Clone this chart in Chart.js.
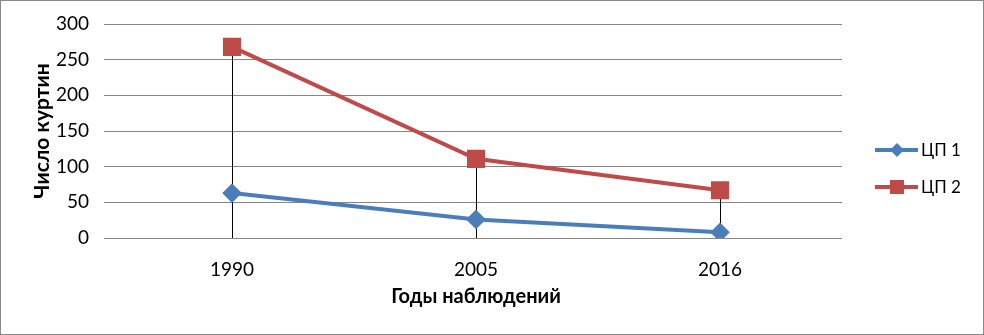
<!DOCTYPE html>
<html>
<head>
<meta charset="utf-8">
<script src="https://cdn.jsdelivr.net/npm/chart.js@4"></script>
<style>
  html, body { margin: 0; padding: 0; background: #fff; }
  #wrap { width: 984px; height: 335px; position: relative; }
</style>
</head>
<body>
<div id="wrap"><canvas id="chart" width="984" height="335"></canvas></div>
<script>
const years = ['1990', '2005', '2016'];
const cp1 = [63, 26, 8];
const cp2 = [268, 111, 67];
const seriesNames = ['ЦП 1', 'ЦП 2'];
const yTicks = [0, 50, 100, 150, 200, 250, 300];

const FONT = 'Lato, "Open Sans", sans-serif';

// vertical drop lines from the highest point down to the axis
const dropLines = {
  id: 'dropLines',
  beforeDatasetsDraw(chart) {
    const ctx = chart.ctx, x = chart.scales.x, y = chart.scales.y;
    ctx.save();
    ctx.strokeStyle = '#000';
    ctx.lineWidth = 1;
    years.forEach((yr, i) => {
      const top = Math.max(cp1[i], cp2[i]);
      const px = Math.round(x.getPixelForValue(i)) + 0.5;
      ctx.beginPath();
      ctx.moveTo(px, y.getPixelForValue(top));
      ctx.lineTo(px, y.getPixelForValue(0));
      ctx.stroke();
    });
    ctx.restore();
  }
};

// Excel style legend at the right plus outer frame
const sideLegend = {
  id: 'sideLegend',
  afterDraw(chart) {
    const ctx = chart.ctx;
    ctx.save();
    ctx.strokeStyle = '#888';
    ctx.lineWidth = 1;
    ctx.strokeRect(0.5, 0.5, chart.width - 1, chart.height - 1);
    chart.data.datasets.forEach((ds, i) => {
      const cy = 150 + i * 37;
      ctx.strokeStyle = ds.borderColor;
      ctx.lineWidth = 4;
      ctx.beginPath();
      ctx.moveTo(875, cy);
      ctx.lineTo(918, cy);
      ctx.stroke();
      ctx.fillStyle = ds.backgroundColor;
      ctx.beginPath();
      if (ds.pointStyle === 'rectRot') {
        ctx.moveTo(897, cy - 7); ctx.lineTo(904, cy); ctx.lineTo(897, cy + 7); ctx.lineTo(890, cy);
      } else {
        ctx.rect(890, cy - 7, 14, 14);
      }
      ctx.fill();
      ctx.fillStyle = '#000';
      ctx.font = '17px ' + FONT;
      ctx.textBaseline = 'middle';
      ctx.fillText(ds.label, 921, cy + 1);
    });
    ctx.restore();
  }
};

new Chart(document.getElementById('chart'), {
  type: 'line',
  data: {
    labels: years,
    datasets: [{
      label: seriesNames[0],
      data: cp1,
      borderColor: '#4A7EBB',
      backgroundColor: '#4A7EBB',
      borderWidth: 4,
      pointStyle: 'rectRot',
      pointRadius: 7,
      pointHoverRadius: 7,
      tension: 0
    }, {
      label: seriesNames[1],
      data: cp2,
      borderColor: '#BE4B48',
      backgroundColor: '#BE4B48',
      borderWidth: 4,
      pointStyle: 'rect',
      pointRadius: 10,
      pointHoverRadius: 10,
      tension: 0
    }]
  },
  options: {
    responsive: false,
    animation: false,
    events: [],
    layout: { padding: { left: 26, right: 142, top: 24, bottom: 22 } },
    plugins: { legend: { display: false }, tooltip: { enabled: false } },
    scales: {
      x: {
        offset: true,
        grid: { display: false },
        border: { display: false },
        ticks: { color: '#000', font: { family: FONT, size: 19 }, padding: 12 },
        title: { display: true, text: 'Годы наблюдений', color: '#000', font: { family: FONT, size: 20, weight: 'bold' }, padding: { top: 4 } },
        afterFit: s => { s.height = 75; s.paddingLeft = 0; s.paddingRight = 0; }
      },
      y: {
        min: 0, max: 300,
        afterBuildTicks: s => { s.ticks = yTicks.map(v => ({ value: v })); },
        grid: { color: '#868686', lineWidth: 1, tickLength: 6, drawTicks: true },
        border: { display: false },
        ticks: { color: '#000', font: { family: FONT, size: 19 }, padding: 15 },
        title: { display: true, text: 'Число куртин', color: '#000', font: { family: FONT, size: 21, weight: 'bold' }, padding: { bottom: 6 } },
        afterFit: s => { s.width = 84; s.paddingTop = 0; s.paddingBottom = 0; }
      }
    }
  },
  plugins: [dropLines, sideLegend]
});
</script>
</body>
</html>
